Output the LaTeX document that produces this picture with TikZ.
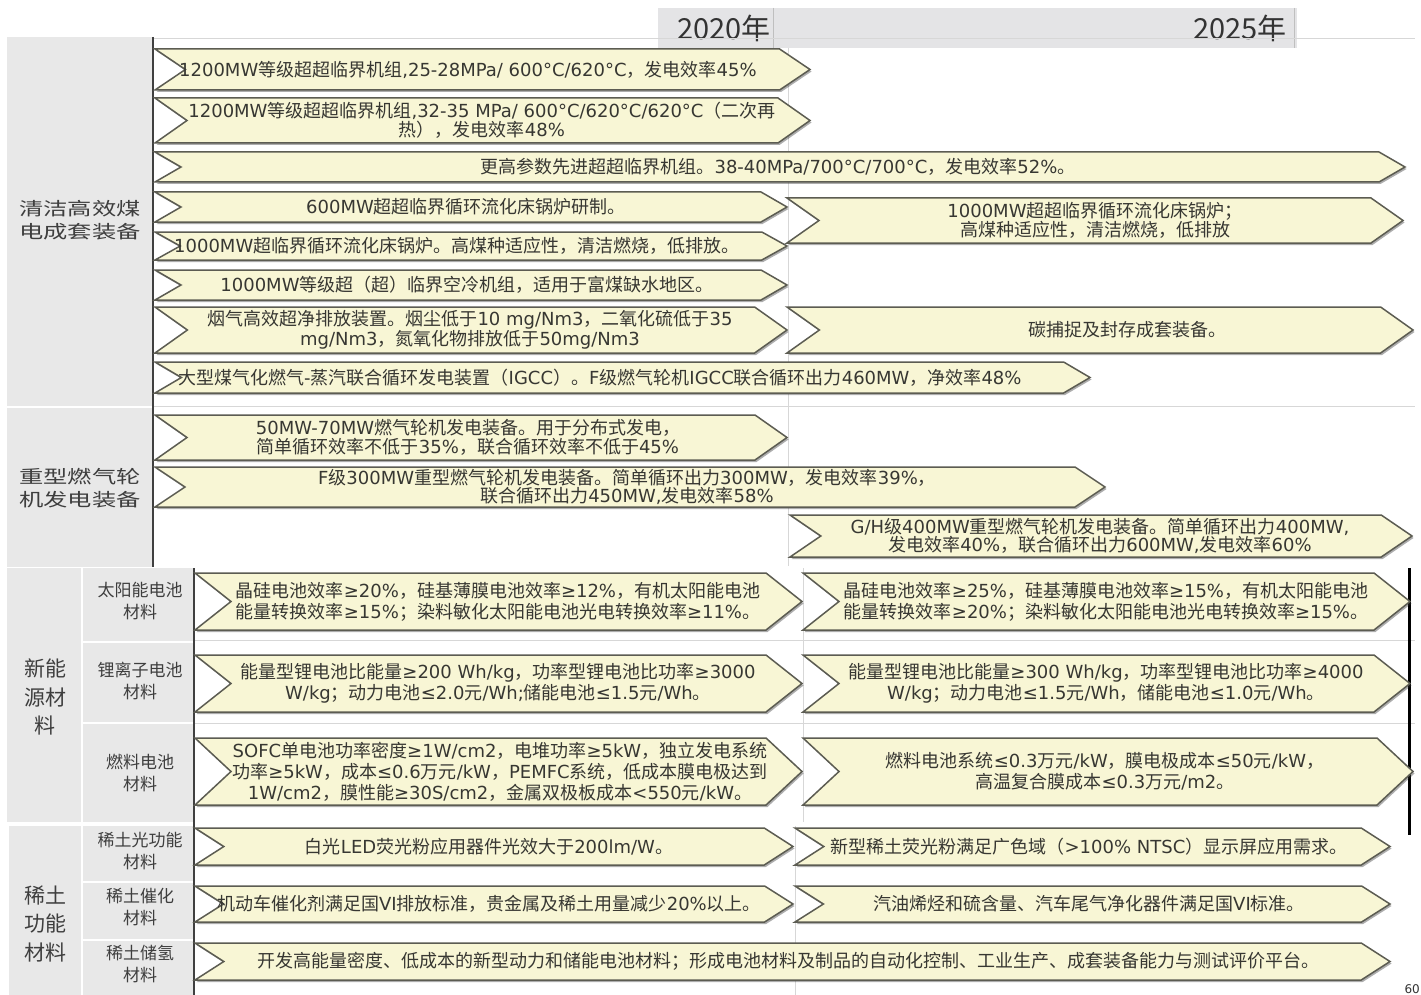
\documentclass[tikz,border=0pt]{standalone}
\usepackage{fontspec}
\setmainfont{DejaVu Sans}
\newfontfamily\cjkfont{Noto Sans CJK SC}
\newfontfamily\cjkwide[FakeStretch=1.35]{Noto Sans CJK SC}
\let\cjkcur\cjkfont
\usetikzlibrary{shadows}

% CJK characters get their own font
\XeTeXinterchartokenstate=1
\newXeTeXintercharclass\cjkclass
\newcount\cjkcode
\newcommand{\setcjkrange}[2]{%
  \cjkcode=#1\relax
  \loop
    \XeTeXcharclass\cjkcode=\cjkclass
  \ifnum\cjkcode<#2\relax \advance\cjkcode by 1 \repeat}
\setcjkrange{"3000}{"303F}
\setcjkrange{"4E00}{"9FFF}
\setcjkrange{"FF00}{"FFEF}
\XeTeXinterchartoks 0 \cjkclass = {\cjkcur}
\XeTeXinterchartoks 4095 \cjkclass = {\cjkcur}
\XeTeXinterchartoks \cjkclass 0 = {\rmfamily}
\XeTeXinterchartoks \cjkclass 4095 = {\rmfamily}

\definecolor{panelgray}{RGB}{232,232,232}
\definecolor{headgray}{RGB}{228,228,230}
\definecolor{arrowfill}{RGB}{248,246,213}
\definecolor{arrowedge}{RGB}{92,92,82}
\definecolor{textgray}{RGB}{55,55,50}
\definecolor{labelgray}{RGB}{62,62,62}
\definecolor{gridgray}{RGB}{215,215,215}

\tikzset{
    arrowbox/.style={fill=arrowfill, draw=arrowedge, line width=1.5pt, line join=miter,
        drop shadow={shadow xshift=1.5pt, shadow yshift=-2pt, opacity=.4, fill=black!80}},
    arrowtext/.style={inner sep=0pt, align=center, text=textgray, font=\fontsize{18}{18.5}\selectfont},
    bigtext/.style={font=\fontsize{18}{21}\selectfont},
    panel/.style={fill=panelgray, draw=none},
    gridline/.style={draw=gridgray, line width=1pt},
    gapline/.style={draw=white, line width=2pt},
    axisline/.style={draw=black!75, line width=2pt},
    catlabel/.style={inner sep=0pt, align=center, text=labelgray,
        font={\let\cjkcur\cjkwide\fontsize{18}{23}\selectfont}},
    grouplabel/.style={inner sep=0pt, align=center, text=labelgray, font=\fontsize{21}{28.5}\selectfont},
    sublabel/.style={inner sep=0pt, align=center, text=labelgray, font=\fontsize{17}{22}\selectfont},
    yeartext/.style={inner sep=0pt, text=black!80, font={\cjkfont\fontsize{29}{30}\selectfont}},
}

% name, x left, x tip, y top, y bottom, text x, node options, text
\newcommand{\roadarrow}[8]{%
  \pgfmathsetmacro{\tipd}{min(0.4*(#5-#4)+14,36)}%
  \pgfmathsetmacro{\midy}{(#4+#5)/2}%
  \filldraw[arrowbox] (#2,#4) -- ({#3-\tipd},#4) -- (#3,\midy) -- ({#3-\tipd},#5) -- (#2,#5) -- ({#2+\tipd},\midy) -- cycle;
  \node[arrowtext,#7] (#1) at (#6,\midy) {#8};
}

\begin{document}
\begin{tikzpicture}[x=1pt, y=-1pt]
    \useasboundingbox[fill=white] (0,0) rectangle (1421,995);

    % header and panels
    \fill[headgray] (658,8) rectangle (1297,48);
    \draw[gridline, draw=black!25] (773,8) -- (773,48);
    \draw[gridline, draw=black!25] (1294,8) -- (1294,48);
    \node[yeartext, anchor=east] (y2020) at (771,28) {2020年};
    \node[yeartext, anchor=east] (y2025) at (1287,28) {2025年};

    \fill[panel] (7,37) rectangle (153,567);
    \fill[panel] (7,568) rectangle (193,822);
    \fill[panel] (9,826) rectangle (193,995);
    \draw[gapline] (7,407) -- (153,407);
    \draw[gapline] (82,568) -- (82,995);
    \draw[gapline] (82,642) -- (193,642);
    \draw[gapline] (82,723) -- (193,723);
    \draw[gapline] (82,882) -- (193,882);
    \draw[gapline] (82,940) -- (193,940);

    \draw[gridline] (153,39) -- (1415,39);
    \draw[gridline] (153,406) -- (1415,406);
    \draw[gridline] (195,640) -- (1415,640);
    \draw[gridline] (195,723) -- (1415,723);
    \draw[gridline] (788,48) -- (788,566);
    \draw[gridline] (803,568) -- (803,822);
    \draw[gridline] (795,826) -- (795,995);
    \draw[axisline] (153,37) -- (153,567);
    \draw[axisline] (194,568) -- (194,995);
    \draw[line width=3pt] (1409,568) -- (1409,835);

    \node[catlabel] (coal) at (80,220) {清洁高效煤\\电成套装备};
    \node[catlabel] (gas) at (80,488) {重型燃气轮\\机发电装备};
    \node[grouplabel] (newenergy) at (45,697) {新能\\源材\\料};
    \node[grouplabel] (rareearth) at (45,924) {稀土\\功能\\材料};
    \node[sublabel] (solar) at (140,601) {太阳能电池\\材料};
    \node[sublabel] (lithium) at (140,681) {锂离子电池\\材料};
    \node[sublabel] (fuelcell) at (140,773) {燃料电池\\材料};
    \node[sublabel] (luminous) at (140,851) {稀土光功能\\材料};
    \node[sublabel] (catalyst) at (140,907) {稀土催化\\材料};
    \node[sublabel] (hydrogen) at (140,964) {稀土储氢\\材料};

    % coal
    \roadarrow{coalA}{155}{810}{49}{90}{179}{anchor=west}{1200MW等级超超临界机组,25-28MPa/ 600°C/620°C，发电效率45\%}
    \roadarrow{coalB}{155}{810}{98}{143}{482}{}{1200MW等级超超临界机组,32-35 MPa/ 600°C/620°C/620°C（二次再\\热），发电效率48\%}
    \roadarrow{coalC}{155}{1405}{152}{182}{778}{}{更高参数先进超超临界机组。38-40MPa/700°C/700°C，发电效率52\%。}
    \roadarrow{coalD}{155}{787}{192}{222}{466}{}{600MW超超临界循环流化床锅炉研制。}
    \roadarrow{coalE}{155}{787}{232}{260}{174}{anchor=west}{1000MW超临界循环流化床锅炉。高煤种适应性，清洁燃烧，低排放。}
    \roadarrow{coalF}{787}{1403}{198}{243}{1095}{}{1000MW超超临界循环流化床锅炉；\\高煤种适应性，清洁燃烧，低排放}
    \roadarrow{coalG}{155}{787}{270}{300}{467}{}{1000MW等级超（超）临界空冷机组，适用于富煤缺水地区。}
    \roadarrow{coalH}{155}{787}{307}{353}{470}{}{烟气高效超净排放装置。烟尘低于10 mg/Nm3，二氧化硫低于35\\mg/Nm3，氮氧化物排放低于50mg/Nm3}
    \roadarrow{coalI}{787}{1413}{307}{353}{1127}{}{碳捕捉及封存成套装备。}
    \roadarrow{coalJ}{155}{1090}{362}{393}{178}{anchor=west}{大型煤气化燃气-蒸汽联合循环发电装置（IGCC）。F级燃气轮机IGCC联合循环出力460MW，净效率48\%}

    % gas turbine
    \roadarrow{gasA}{155}{787}{415}{460}{468}{}{50MW-70MW燃气轮机发电装备。用于分布式发电，\\简单循环效率不低于35\%，联合循环效率不低于45\%}
    \roadarrow{gasB}{155}{1105}{467}{507}{627}{}{F级300MW重型燃气轮机发电装备。简单循环出力300MW，发电效率39\%，\\联合循环出力450MW,发电效率58\%}
    \roadarrow{gasC}{790}{1412}{515}{557}{1100}{}{G/H级400MW重型燃气轮机发电装备。简单循环出力400MW,\\发电效率40\%，联合循环出力600MW,发电效率60\%}

    % new energy materials
    \roadarrow{solarA}{195}{802}{573}{630}{498}{bigtext}{晶硅电池效率≥20\%，硅基薄膜电池效率≥12\%，有机太阳能电池\\能量转换效率≥15\%；染料敏化太阳能电池光电转换效率≥11\%。}
    \roadarrow{solarB}{803}{1410}{573}{630}{1106}{bigtext}{晶硅电池效率≥25\%，硅基薄膜电池效率≥15\%，有机太阳能电池\\能量转换效率≥20\%；染料敏化太阳能电池光电转换效率≥15\%。}
    \roadarrow{lithA}{195}{802}{655}{712}{498}{bigtext}{能量型锂电池比能量≥200 Wh/kg，功率型锂电池比功率≥3000\\W/kg；动力电池≤2.0元/Wh;储能电池≤1.5元/Wh。}
    \roadarrow{lithB}{803}{1410}{655}{712}{1106}{bigtext}{能量型锂电池比能量≥300 Wh/kg，功率型锂电池比功率≥4000\\W/kg；动力电池≤1.5元/Wh，储能电池≤1.0元/Wh。}
    \roadarrow{fuelA}{195}{802}{738}{805}{500}{bigtext}{SOFC单电池功率密度≥1W/cm2，电堆功率≥5kW，独立发电系统\\功率≥5kW，成本≤0.6万元/kW，PEMFC系统，低成本膜电极达到\\1W/cm2，膜性能≥30S/cm2，金属双极板成本<550元/kW。}
    \roadarrow{fuelB}{803}{1413}{738}{805}{1105}{bigtext}{燃料电池系统≤0.3万元/kW，膜电极成本≤50元/kW，\\高温复合膜成本≤0.3万元/m2。}

    % rare earth materials
    \roadarrow{lumA}{195}{793}{828}{865}{489}{bigtext}{白光LED荧光粉应用器件光效大于200lm/W。}
    \roadarrow{lumB}{795}{1390}{828}{865}{1089}{bigtext}{新型稀土荧光粉满足广色域（>100\% NTSC）显示屏应用需求。}
    \roadarrow{catA}{195}{793}{886}{922}{489}{bigtext}{机动车催化剂满足国VI排放标准，贵金属及稀土用量减少20\%以上。}
    \roadarrow{catB}{795}{1390}{886}{922}{1089}{bigtext}{汽油烯烃和硫含量、汽车尾气净化器件满足国VI标准。}
    \roadarrow{hydA}{195}{1390}{943}{980}{788}{bigtext}{开发高能量密度、低成本的新型动力和储能电池材料；形成电池材料及制品的自动化控制、工业生产、成套装备能力与测试评价平台。}

    \node[anchor=south east, inner sep=1pt, text=black!80, font=\fontsize{12}{12}\selectfont] (page) at (1421,995) {60};
\end{tikzpicture}
\end{document}
